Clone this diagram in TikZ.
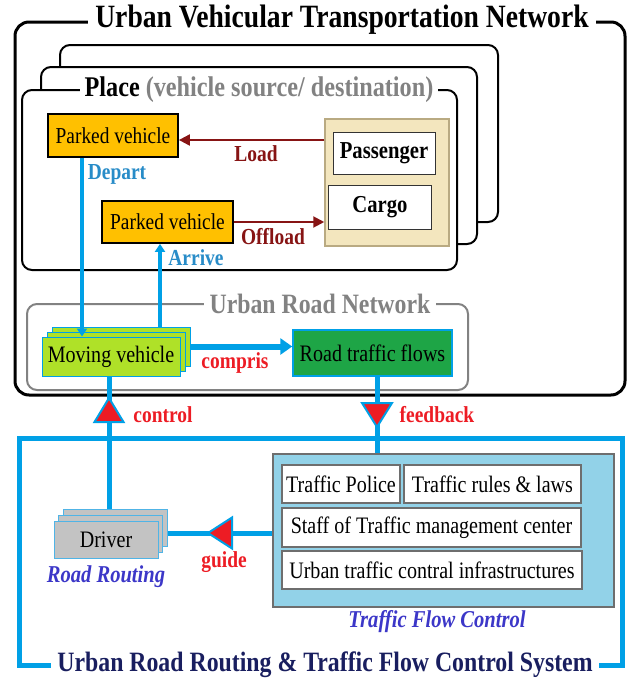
\documentclass[tikz,border=0pt]{standalone}
\usepackage{fontspec}
\setmainfont{Liberation Serif}[FakeStretch=0.85]
\usetikzlibrary{arrows.meta,calc}

\definecolor{flowblue}{RGB}{0,160,230}
\definecolor{lblblue}{RGB}{40,140,200}
\definecolor{darkred}{RGB}{135,20,20}
\definecolor{hotred}{RGB}{237,28,36}
\definecolor{gold}{RGB}{255,192,0}
\definecolor{beige}{RGB}{243,230,190}
\definecolor{beigeedge}{RGB}{185,170,130}
\definecolor{limegreen}{RGB}{175,225,40}
\definecolor{flowgreen}{RGB}{30,165,70}
\definecolor{paleblue}{RGB}{146,210,232}
\definecolor{boxgray}{RGB}{110,110,110}
\definecolor{drivergray}{RGB}{195,195,195}
\definecolor{driveredge}{RGB}{80,180,230}
\definecolor{navy}{RGB}{25,30,95}
\definecolor{violetblue}{RGB}{60,55,200}
\definecolor{titlegray}{RGB}{130,130,130}

\begin{document}
\begin{tikzpicture}[x=1pt,y=-1pt,
  body/.style={font=\fontsize{23.6}{26}\selectfont},
  lbl/.style={font=\fontsize{22.9}{25}\selectfont\bfseries},
  itlbl/.style={font=\fontsize{24.2}{26}\selectfont\bfseries\itshape, text=violetblue},
  title/.style={font=\fontsize{28}{30}\selectfont\bfseries, fill=white, inner xsep=6pt, inner ysep=0pt},
  placeframe/.style={draw=black, line width=2pt, fill=white, rounded corners=10pt},
  parked/.style={font=\fontsize{22.8}{25}\selectfont, draw=black, line width=1.8pt, fill=gold, inner sep=0pt},
  itembox/.style={font=\fontsize{24.3}{26}\selectfont\bfseries, draw=black!80, line width=1pt, fill=white, inner sep=0pt},
  movebox/.style={body, draw=flowblue, line width=1pt, fill=limegreen, inner sep=0pt,
    minimum width=138pt, minimum height=39pt},
  drvbox/.style={body, draw=driveredge, line width=1pt, fill=drivergray, inner sep=0pt,
    minimum width=104pt, minimum height=37pt},
  ctrlbox/.style={body, draw=boxgray, line width=1.2pt, fill=white, inner sep=0pt, minimum height=38pt},
  thinflow/.style={draw=flowblue, line width=3.5pt},
  thickflow/.style={draw=flowblue, line width=5pt},
  cargoarrow/.style={draw=darkred, line width=2pt, -{Triangle[length=11pt,width=11pt]}},
  redtri/.style={fill=hotred, draw=flowblue, line width=2pt, line join=miter}
]
\useasboundingbox (0,0) rectangle (630,678);

% ---------- Urban vehicular transportation network ----------
\draw[line width=3pt, rounded corners=14pt] (15,22) rectangle (625,395);
\node[font=\fontsize{32.5}{35}\selectfont\bfseries, fill=white, inner xsep=7pt, inner ysep=0pt]
  (vtn) at (342,20) {Urban Vehicular Transportation Network};

% stacked places
\draw[placeframe] (60,45) rectangle (498,222);
\draw[placeframe] (41,67) rectangle (477,244);
\draw[placeframe] (22,90) rectangle (457,270);
\node[title, font=\fontsize{28.5}{30}\selectfont\bfseries, inner xsep=5pt] (place) at (259,90)
  {Place\hspace{6pt}\textcolor{titlegray}{(vehicle source/ destination)}};

\node[parked, minimum width=130pt, minimum height=43pt] (pv1) at (113,135.5) {Parked vehicle};
\node[parked, minimum width=131pt, minimum height=42pt] (pv2) at (167.5,222) {Parked vehicle};

\node[draw=beigeedge, line width=1.5pt, fill=beige, minimum width=124pt, minimum height=127pt,
  inner sep=0pt] (cont) at (387,182.5) {};
\node[itembox, minimum width=102pt, minimum height=42pt] (pass) at (384,153) {Passenger};
\node[itembox, minimum width=103pt, minimum height=44pt] (cargo) at (380,207) {Cargo};

\coordinate (loady) at (0,140);
\draw[cargoarrow] (cont.west |- loady) -- (pv1.east |- loady);
\draw[cargoarrow] (pv2.east) -- (cont.west |- pv2.east);
\node[lbl, text=darkred] (load) at (256,154) {Load};
\node[lbl, text=darkred] (offload) at (273,237) {Offload};

% ---------- Urban road network ----------
\draw[draw=titlegray, line width=2pt, rounded corners=10pt] (27,304) rectangle (468,390);
\node[title, text=titlegray] (urn) at (320,304) {Urban Road Network};

\node[movebox] (mv3) at (121,346.5) {};
\node[movebox] (mv2) at (116,351.5) {};
\node[movebox] (mv1) at (111,356.5) {Moving vehicle};
\node[body, draw=flowblue, line width=1.5pt, fill=flowgreen, inner sep=0pt,
  minimum width=159pt, minimum height=46pt] (rtf) at (372.5,353) {Road traffic flows};

% depart / arrive
\coordinate (depx) at (82,0);
\coordinate (arrx) at (160,0);
\draw[thinflow, -{Triangle[length=8pt,width=10pt]}] (pv1.south -| depx) -- (mv1.north -| depx);
\draw[thinflow, -{Triangle[length=8pt,width=10pt]}] (mv3.north -| arrx) -- (pv2.south -| arrx);
\node[lbl, text=lblblue] (depart) at (117,174) {Depart};
\node[lbl, text=lblblue] (arrive) at (196,258) {Arrive};

% compris
\draw[draw=flowblue, line width=6pt, -{Triangle[length=12pt,width=16pt]}]
  (mv3.east) -- (rtf.west |- mv3.east);
\node[lbl, text=hotred] (compris) at (235,363) {compris};

% ---------- Routing and flow control system ----------
\draw[draw=flowblue, line width=5pt] (19,438) rectangle (622,665);
\node[title, text=navy] (sys) at (325,665) {Urban Road Routing \& Traffic Flow Control System};

\node[draw=boxgray, line width=2pt, fill=paleblue, minimum width=341pt, minimum height=153pt,
  inner sep=0pt] (tfc) at (443.5,530.5) {};
\node[ctrlbox, minimum width=118pt] (police) at (341,484) {Traffic Police};
\node[ctrlbox, minimum width=177pt] (rules) at (492.5,484) {Traffic rules \& laws};
\node[ctrlbox, minimum width=299pt, minimum height=39pt] (staff) at (431.5,527.5) {Staff of Traffic management center};
\node[ctrlbox, minimum width=300pt] (infra) at (432,570) {Urban traffic contral infrastructures};
\node[itlbl] (tfclbl) at (437,622) {Traffic Flow Control};

\node[drvbox] (drv3) at (115,527.5) {};
\node[drvbox] (drv2) at (110.5,533.5) {};
\node[drvbox] (drv1) at (106,539.5) {Driver};
\node[itlbl] (rr) at (106,577) {Road Routing};

% control, feedback and guide links
\coordinate (ctlx) at (109,0);
\coordinate (fbx) at (377,0);
\draw[thickflow] (drv3.north -| ctlx) -- (mv1.south -| ctlx);
\draw[thickflow] (rtf.south -| fbx) -- (tfc.north -| fbx);
\draw[thickflow] (tfc.west |- drv2.east) -- (drv3.east |- drv2.east);

\draw[redtri] (94.5,422) -- (109,398) -- (123.5,422) -- cycle;
\draw[redtri] (362,403) -- (392,403) -- (377,427) -- cycle;
\draw[redtri] (232,517.5) -- (208,533) -- (232,548.5) -- cycle;

\node[lbl, text=hotred] (control) at (163,415) {control};
\node[lbl, text=hotred] (feedback) at (437,415) {feedback};
\node[lbl, text=hotred] (guide) at (224,562) {guide};
\end{tikzpicture}
\end{document}
